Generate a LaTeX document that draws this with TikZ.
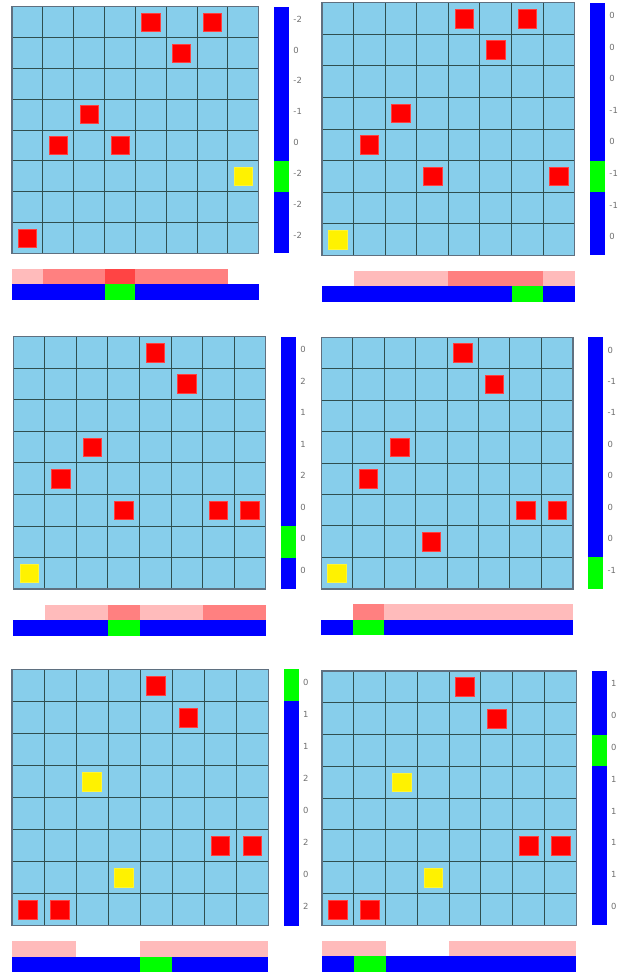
\documentclass[tikz,border=0pt]{standalone}
\usepackage{fontspec}
\setmainfont{DejaVu Sans}
\definecolor{skyc}{HTML}{87CEEB}
\definecolor{innerc}{HTML}{2F4F4F}
\definecolor{outerc}{HTML}{5F7080}
\definecolor{cL}{HTML}{FFBBBB}
\definecolor{cS}{HTML}{FF8080}
\definecolor{cD}{HTML}{FF4444}
\definecolor{cW}{HTML}{FFFFFF}
\definecolor{barblue}{HTML}{0000FF}
\definecolor{bargreen}{HTML}{00FF00}
\definecolor{labc}{HTML}{707070}
\tikzset{
  x=0.75pt, y=-0.75pt,
  innerline/.style={draw=innerc, line width=0.75pt},
  outerline/.style={draw=outerc, line width=1.1pt},
  sqR/.style={fill=red, draw=red!75!white, line width=0.4pt},
  sqY/.style={fill=yellow, draw=yellow!80!white, line width=0.4pt},
  lab/.style={anchor=west, inner sep=0pt, text=labc, font=\fontsize{6.3pt}{7pt}\selectfont},
}
\newcommand{\drawgrid}{%
  \fill[skyc] (0,0) rectangle ({8*\c},{8*\c});
  \foreach \i in {1,...,7} {
    \draw[innerline] ({\i*\c},0) -- ({\i*\c},{8*\c});
    \draw[innerline] (0,{\i*\c}) -- ({8*\c},{\i*\c});
  }
  \draw[outerline] (0,0) rectangle ({8*\c},{8*\c});
}
\newcommand{\drawcells}[1]{%
  \foreach \cx/\cy/\cc in {#1} {
    \draw[sq\cc] ({(\cx+0.205)*\c},{(\cy+0.205)*\c}) rectangle ({(\cx+0.795)*\c},{(\cy+0.795)*\c});
  }
}
\newcommand{\drawvbar}[3]{% #1 panel id, #2 green row, #3 labels
  \fill[barblue] ({8*\c+15.5},0) rectangle ({8*\c+30.5},{8*\c});
  \fill[bargreen] ({8*\c+15.5},{#2*\c}) rectangle ({8*\c+30.5},{(#2+1)*\c});
  \foreach \lab [count=\k from 0] in {#3} {
    \node[lab] (lab#1-\k) at ({8*\c+34.5},{(\k+0.5)*\c-3}) {\lab};
  }
}
\newcommand{\drawhbar}[2]{% #1 pink colours, #2 green column
  \foreach \col [count=\k from 0] in {#1} {
    \fill[c\col] ({\k*\c},{8*\c+15.5}) rectangle ({(\k+1)*\c},{8*\c+31});
  }
  \fill[barblue] (0,{8*\c+31}) rectangle ({8*\c},{8*\c+46.5});
  \fill[bargreen] ({#2*\c},{8*\c+31}) rectangle ({(#2+1)*\c},{8*\c+46.5});
}
\begin{document}
\begin{tikzpicture}
\useasboundingbox (0,0) rectangle (621,973);
% panel 1
\begin{scope}[shift={(12,6.7)}]
  \def\c{30.84}
  \drawgrid
  \drawcells{4/0/R,6/0/R,5/1/R,2/3/R,1/4/R,3/4/R,7/5/Y,0/7/R}
  \drawvbar{a}{5}{-2,0,-2,-1,0,-2,-2,-2}
  \drawhbar{L,S,S,D,S,S,S,W}{3}
\end{scope}
% panel 2
\begin{scope}[shift={(322,2.7)}]
  \def\c{31.59}
  \drawgrid
  \drawcells{4/0/R,6/0/R,5/1/R,2/3/R,1/4/R,3/5/R,7/5/R,0/7/Y}
  \drawvbar{b}{5}{0,0,0,-1,0,-1,-1,0}
  \drawhbar{W,L,L,L,S,S,S,L}{6}
\end{scope}
% panel 3
\begin{scope}[shift={(13.3,336.7)}]
  \def\c{31.55}
  \drawgrid
  \drawcells{4/0/R,5/1/R,2/3/R,1/4/R,3/5/R,6/5/R,7/5/R,0/7/Y}
  \drawvbar{c}{6}{0,2,1,1,2,0,0,0}
  \drawhbar{W,L,L,S,L,L,S,S}{3}
\end{scope}
% panel 4
\begin{scope}[shift={(321.3,337.3)}]
  \def\c{31.44}
  \drawgrid
  \drawcells{4/0/R,5/1/R,2/3/R,1/4/R,6/5/R,7/5/R,3/6/R,0/7/Y}
  \drawvbar{d}{7}{0,-1,-1,0,0,0,0,-1}
  \drawhbar{W,S,L,L,L,L,L,L}{1}
\end{scope}
% panel 5
\begin{scope}[shift={(12,669.3)}]
  \def\c{32.04}
  \drawgrid
  \drawcells{4/0/R,5/1/R,2/3/Y,6/5/R,7/5/R,3/6/Y,0/7/R,1/7/R}
  \drawvbar{e}{0}{0,1,1,2,0,2,0,2}
  \drawhbar{L,L,W,W,L,L,L,L}{4}
\end{scope}
% panel 6
\begin{scope}[shift={(322,671)}]
  \def\c{31.79}
  \drawgrid
  \drawcells{4/0/R,5/1/R,2/3/Y,6/5/R,7/5/R,3/6/Y,0/7/R,1/7/R}
  \drawvbar{f}{2}{1,0,0,1,1,1,1,0}
  \drawhbar{L,L,W,W,L,L,L,L}{1}
\end{scope}
\end{tikzpicture}
\end{document}
